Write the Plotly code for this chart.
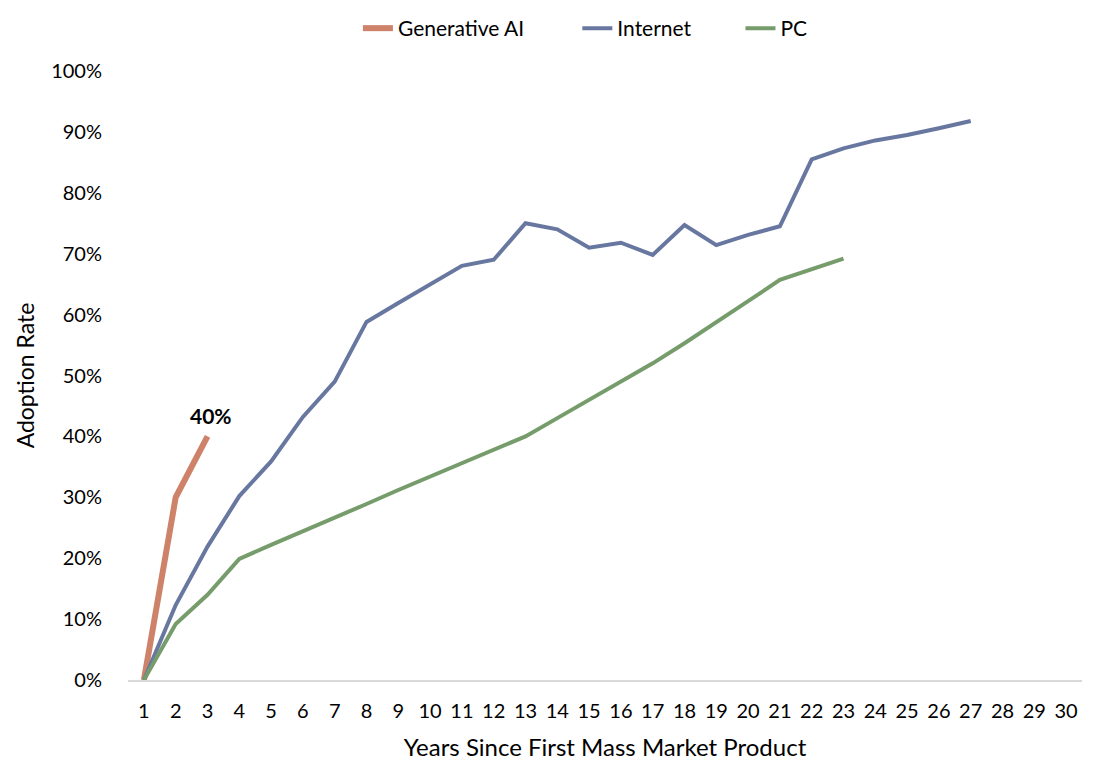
import plotly.graph_objects as go

years = list(range(1, 31))

gen_ai = [0.0, 0.30, 0.40]
internet = [0.0, 0.123, 0.219, 0.302, 0.359, 0.432, 0.490, 0.588, 0.619, 0.650,
            0.680, 0.690, 0.750, 0.740, 0.710, 0.718, 0.698, 0.747, 0.714, 0.731,
            0.745, 0.855, 0.873, 0.886, 0.895, 0.906, 0.918]
pc = [0.0, 0.092, 0.140, 0.199, 0.222, 0.244, 0.266, 0.289, 0.312, 0.334,
      0.356, 0.378, 0.400, 0.430, 0.460, 0.490, 0.520, 0.553, 0.587, 0.622,
      0.657, 0.675, 0.692]

# name, values, colour, width, legend id, legend x
series = [
    ("Generative AI", gen_ai, "#CD8269", 6, "legend", 0.241),
    ("Internet", internet, "#6877A0", 4, "legend2", 0.471),
    ("PC", pc, "#769C6C", 4, "legend3", 0.642),
]

fig = go.Figure()
legends = {}
for name, vals, color, width, leg, lx in series:
    fig.add_trace(go.Scatter(
        x=years[:len(vals)], y=vals, name=name, mode="lines",
        line=dict(color=color, width=width), legend=leg,
    ))
    legends[leg] = dict(
        x=lx, xanchor="left", y=1.0, yanchor="top", yref="container",
        bgcolor="rgba(0,0,0,0)",
        font=dict(family="Lato", size=21, color="black"),
    )

fig.add_annotation(
    x=years[len(gen_ai) - 1], y=gen_ai[-1], text="<b>40%</b>",
    showarrow=False, yanchor="bottom", yshift=6, xshift=3,
    font=dict(family="Lato", size=21, color="black"),
)

fig.update_layout(
    width=1093, height=756,
    margin=dict(l=120, r=19, t=63, b=84),
    plot_bgcolor="white", paper_bgcolor="white",
    showlegend=True,
    **legends,
    xaxis=dict(
        range=[0.5, 30.5], tickmode="array", tickvals=years,
        ticktext=[str(y) for y in years],
        showgrid=False, zeroline=False, showline=True, linecolor="#D9D9D9", linewidth=1.5,
        ticks="", tickfont=dict(family="Lato", size=20, color="black"),
        ticklabelstandoff=12, automargin=False,
        title=dict(text="Years Since First Mass Market Product",
                   font=dict(family="Lato", size=24, color="black"), standoff=18),
    ),
    yaxis=dict(
        range=[0, 1], tickformat=".0%", dtick=0.1,
        showgrid=False, zeroline=False, showline=False, ticks="",
        tickfont=dict(family="Lato", size=20, color="black"),
        ticklabelstandoff=25, automargin=False,
        title=dict(text="Adoption Rate",
                   font=dict(family="Lato", size=23, color="black"), standoff=10),
    ),
)

fig.write_html("out.html")
